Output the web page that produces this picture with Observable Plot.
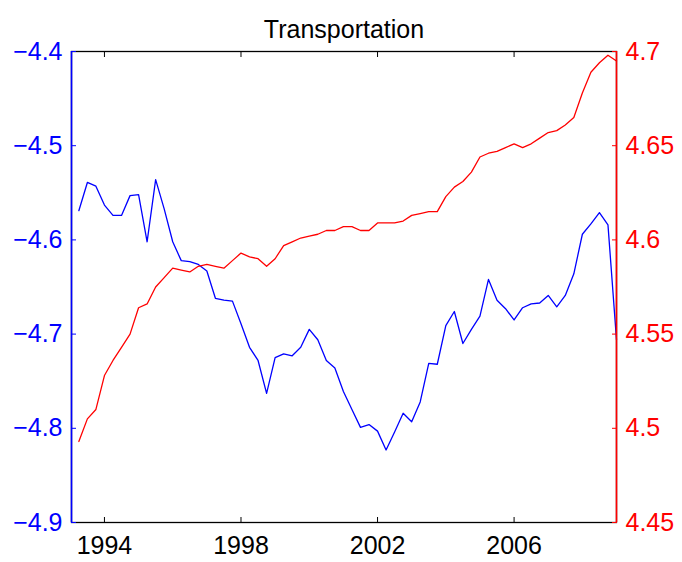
<!DOCTYPE html>
<html>
<head>
<meta charset="utf-8">
<script src="https://cdn.jsdelivr.net/npm/d3@7"></script>
<script src="https://cdn.jsdelivr.net/npm/@observablehq/plot@0.6"></script>
<style>
  html, body { margin: 0; padding: 0; background: #fff; }
</style>
</head>
<body>
<div id="chart"></div>
<script>
// ---- data (quarterly observations, first quarter of 1993 onward) ----
const title = "Transportation";
const startYear = 1993;
const xDomain = [1993.035, 2009.0];
const yearTicks = [1994, 1998, 2002, 2006];
const leftTicks = [-4.9, -4.8, -4.7, -4.6, -4.5, -4.4];
const leftDomain = [-4.9, -4.4];
const rightTicks = [4.45, 4.5, 4.55, 4.6, 4.65, 4.7];
const rightDomain = [4.45, 4.7];

// blue series (left axis)
const blueSeries = [
  -4.569, -4.539, -4.543, -4.563, -4.574, -4.574, -4.553, -4.552,
  -4.602, -4.536, -4.567, -4.602, -4.622, -4.623, -4.626, -4.633,
  -4.662, -4.664, -4.665, -4.689, -4.714, -4.728, -4.763, -4.725,
  -4.721, -4.723, -4.714, -4.695, -4.706, -4.728, -4.736, -4.761,
  -4.780, -4.799, -4.796, -4.803, -4.823, -4.804, -4.784, -4.793,
  -4.772, -4.731, -4.732, -4.691, -4.676, -4.710, -4.695, -4.681,
  -4.642, -4.664, -4.673, -4.685, -4.672, -4.668, -4.667, -4.659,
  -4.671, -4.659, -4.636, -4.594, -4.583, -4.571, -4.584, -4.706
];

// red series (right axis)
const redSeries = [
  4.493, 4.505, 4.510, 4.528, 4.536, 4.543, 4.550, 4.564,
  4.566, 4.575, 4.580, 4.585, 4.584, 4.583, 4.586, 4.587,
  4.586, 4.585, 4.589, 4.593, 4.591, 4.590, 4.586, 4.590,
  4.597, 4.599, 4.601, 4.602, 4.603, 4.605, 4.605, 4.607,
  4.607, 4.605, 4.605, 4.609, 4.609, 4.609, 4.610, 4.613,
  4.614, 4.615, 4.615, 4.623, 4.628, 4.631, 4.636, 4.644,
  4.646, 4.647, 4.649, 4.651, 4.649, 4.651, 4.654, 4.657,
  4.658, 4.661, 4.665, 4.678, 4.689, 4.694, 4.698, 4.695
];

// ---- build ----
const t = i => startYear + (i + 1) / 4;
const blueData = blueSeries.map((v, i) => ({x: t(i), y: v}));
// map right-axis values onto the left scale
const toLeft = v => leftDomain[0] + (v - rightDomain[0]) * (leftDomain[1] - leftDomain[0]) / (rightDomain[1] - rightDomain[0]);
const fromLeft = d => rightDomain[0] + (d - leftDomain[0]) * (rightDomain[1] - rightDomain[0]) / (leftDomain[1] - leftDomain[0]);
const redData = redSeries.map((v, i) => ({x: t(i), y: toLeft(v)}));
const rightAt = rightTicks.map(toLeft);

const FS = 25;
const chart = Plot.plot({
  width: 682,
  height: 562,
  marginLeft: 71,
  marginRight: 66,
  marginTop: 51,
  marginBottom: 40,
  style: {fontFamily: "'Liberation Sans', Arial, Helvetica, sans-serif", background: "#fff", color: "black"},
  x: {domain: xDomain, axis: null},
  y: {domain: leftDomain, axis: null},
  marks: [
    Plot.line(blueData, {x: "x", y: "y", stroke: "#0000ff", strokeWidth: 1.3}),
    Plot.line(redData, {x: "x", y: "y", stroke: "#ff0000", strokeWidth: 1.3}),
    Plot.frame({stroke: "black", strokeWidth: 1.3}),
    Plot.axisX(yearTicks, {anchor: "bottom", tickSize: 5, dy: -5, tickPadding: 14, fontSize: FS,
      tickFormat: d => String(d), stroke: "black", fill: "black", label: null}),
    Plot.axisX(yearTicks, {anchor: "top", tickSize: 5, dy: 5, tickFormat: () => "", stroke: "black", label: null}),
    Plot.ruleX([xDomain[0]], {stroke: "#0000ff", strokeWidth: 1.6}),
    Plot.ruleX([xDomain[1]], {stroke: "#ff0000", strokeWidth: 1.6}),
    Plot.axisY(leftTicks, {anchor: "left", tickSize: 5, dx: 5, tickPadding: 9, fontSize: FS,
      tickFormat: d => "\u2212" + Math.abs(d).toFixed(1), stroke: "#0000ff", fill: "#0000ff", label: null}),
    Plot.axisY(rightAt, {anchor: "right", tickSize: 5, dx: -5, tickPadding: 9, fontSize: FS,
      tickFormat: d => String(+fromLeft(d).toFixed(2)), stroke: "#ff0000", fill: "#ff0000", label: null}),
    Plot.text([title], {frameAnchor: "top", dy: -31, fontSize: FS, fill: "black"})
  ]
});
document.getElementById("chart").appendChild(chart);
</script>
</body>
</html>
